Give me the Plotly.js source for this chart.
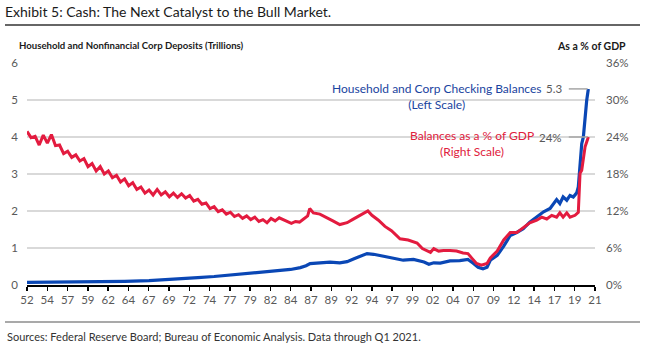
<!DOCTYPE html>
<html>
<head>
<meta charset="utf-8">
<script src="https://cdn.plot.ly/plotly-3.0.1.min.js"></script>
<style>
html, body { margin: 0; padding: 0; background: #ffffff; }
#chart { width: 646px; height: 351px; }
</style>
</head>
<body>
<div id="chart"></div>
<script>
// ---------- Data ----------
const tickLabels = ['52','54','57','59','62','64','67','69','72','74','77','79','82','84','87',
                    '89','92','94','97','99','02','04','07','09','12','14','17','19','21'];

// Household and Corp Checking Balances (trillions, left scale)
const balanceYears = [1952.0,1955.0,1958.0,1961.0,1964.0,1967.0,1969.0,1971.0,1973.0,1975.0,
  1977.0,1979.0,1981.0,1983.0,1984.4,1985.6,1986.3,1986.8,1988.0,1989.25,1990.45,1991.35,
  1992.2,1993.0,1993.8,1994.6,1995.8,1997.0,1998.25,1999.5,2000.8,2001.4,2002.0,2002.8,
  2004.0,2005.2,2006.2,2006.85,2007.45,2008.05,2008.55,2008.95,2009.8,2010.6,2011.4,2012.2,
  2013.0,2013.8,2014.66,2015.5,2016.3,2016.7,2017.1,2017.5,2017.9,2018.35,2018.75,2019.15,
  2019.57,2019.77,2019.98,2020.19,2020.39,2020.6,2020.8,2021.0];
const balances = [0.07,0.075,0.08,0.09,0.10,0.12,0.14,0.17,0.20,0.23,
  0.27,0.31,0.35,0.39,0.42,0.47,0.52,0.58,0.60,0.62,0.60,0.63,
  0.71,0.78,0.85,0.83,0.78,0.71,0.67,0.69,0.62,0.56,0.60,0.59,
  0.65,0.66,0.69,0.59,0.48,0.44,0.48,0.67,0.80,1.05,1.34,1.42,
  1.52,1.70,1.84,1.98,2.07,2.20,2.31,2.20,2.38,2.29,2.42,2.38,
  2.49,2.65,3.37,3.82,4.00,4.54,4.99,5.3];

// Balances as a % of GDP (right scale)
const shareYears = [1952.0,1952.5,1953.0,1953.5,1954.0,1954.5,1955.0,1955.5,1956.0,1956.5,
  1957.0,1957.5,1958.0,1958.5,1959.0,1959.5,1960.0,1960.5,1961.0,1961.5,
  1962.0,1962.5,1963.0,1963.5,1964.0,1964.5,1965.0,1965.5,1966.0,1966.5,
  1967.0,1967.5,1968.0,1968.5,1969.0,1969.5,1970.0,1970.5,1971.0,1971.5,
  1972.0,1972.5,1973.0,1973.5,1974.0,1974.5,1975.0,1975.5,1976.0,1976.5,
  1977.0,1977.5,1978.0,1978.5,1979.0,1979.5,1980.0,1980.5,1981.0,1981.5,
  1982.0,1982.5,1983.0,1983.5,1984.0,1984.5,1985.0,1985.5,1986.0,1986.5,
  1986.75,1987.2,1988.0,1988.8,1989.6,1990.45,1991.35,1992.0,1992.6,1993.2,
  1993.9,1994.4,1995.2,1996.0,1996.8,1997.85,1998.85,1999.95,2000.6,2001.6,
  2002.0,2002.6,2003.2,2004.0,2004.8,2005.6,2006.2,2006.65,2007.25,2007.85,
  2008.55,2008.95,2009.8,2010.6,2011.4,2012.2,2013.0,2013.8,2014.66,2015.27,
  2015.89,2016.5,2017.1,2017.5,2017.9,2018.35,2018.75,2019.37,2019.77,2019.98,
  2020.19,2020.39,2020.6,2020.8,2021.0];
const sharePct = [24.9,23.9,24.1,22.7,24.3,23.0,24.4,22.6,22.7,21.3,
  21.7,20.7,21.1,20.1,20.5,19.2,19.7,18.5,19.2,18.0,
  18.5,17.4,17.8,16.7,17.2,16.1,16.6,15.5,15.9,14.9,
  15.4,14.6,15.5,14.6,15.1,14.3,14.9,14.2,14.8,14.1,
  14.5,13.6,13.9,13.1,13.3,12.4,12.7,11.9,12.2,11.5,
  11.8,11.1,11.4,10.8,11.2,10.6,11.0,10.3,10.6,10.1,
  10.8,10.4,10.9,10.6,10.4,10.0,10.3,10.2,10.7,11.2,
  12.4,11.7,11.5,11.0,10.4,9.8,10.1,10.6,11.0,11.4,
  12.0,11.3,10.5,9.5,8.8,7.5,7.3,6.8,5.9,5.3,
  5.9,5.5,5.6,5.6,5.5,5.2,5.1,4.4,3.5,3.2,
  3.5,4.4,5.5,7.3,8.5,8.5,9.3,10.1,10.5,11.0,
  10.7,11.3,11.0,11.7,11.0,11.7,11.0,11.3,11.8,18.1,
  18.6,20.2,22.4,23.2,24.0];

const leftTicks = [0,1,2,3,4,5,6];
const rightTicks = [0,6,12,18,24,30,36];

// ---------- Style ----------
const FONT = 'Lato, "Open Sans", sans-serif';
const BLUE = '#0a47b5';
const RED = '#e31b3f';
const GREY_TXT = '#595959';
const X0 = 1952, X1 = 2021.82;

// plot area geometry (for paper-coordinate placement of outside texts)
const M = {l: 27, r: 51, t: 63, b: 66};
const PW = 646 - M.l - M.r, PH = 351 - M.t - M.b;
const px = x => (x - M.l) / PW;
const py = y => (351 - M.b - y) / PH;

const tickVals = tickLabels.map((_, i) => X0 + i * (X1 - X0) / (tickLabels.length - 1));

const lastBal = balances[balances.length - 1];
const lastPct = sharePct[sharePct.length - 1];
const lastYear = balanceYears[balanceYears.length - 1];

const traces = [
  {x: shareYears, y: sharePct, yaxis: 'y2', type: 'scatter', mode: 'lines',
   line: {color: RED, width: 3}, hoverinfo: 'skip'},
  {x: balanceYears, y: balances, yaxis: 'y', type: 'scatter', mode: 'lines',
   line: {color: BLUE, width: 3.2}, hoverinfo: 'skip'}
];

const layout = {
  width: 646, height: 351,
  margin: M,
  paper_bgcolor: '#ffffff', plot_bgcolor: '#ffffff',
  showlegend: false,
  font: {family: FONT, color: GREY_TXT, size: 12},
  title: {text: 'Exhibit 5: Cash: The Next Catalyst to the Bull Market.',
          xref: 'container', yref: 'container', x: 5/646, y: 1 - 12/351,
          xanchor: 'left', yanchor: 'middle',
          font: {family: FONT, size: 14, color: '#1a1a1a'}},
  xaxis: {range: [X0, X1], tickmode: 'array', tickvals: tickVals, ticktext: tickLabels,
          ticks: 'outside', ticklen: 4, tickwidth: 1.5, tickcolor: '#000',
          showline: true, linecolor: '#000', linewidth: 1.5,
          showgrid: false, zeroline: false, fixedrange: true,
          tickfont: {size: 11.5, color: GREY_TXT}},
  yaxis: {range: [0, 6], tickmode: 'array', tickvals: leftTicks,
          ticktext: leftTicks.map(String),
          showgrid: true, gridcolor: '#d9d9d9', gridwidth: 1.5,
          zeroline: false, showline: false, ticks: '', fixedrange: true,
          ticklabelstandoff: 8,
          tickfont: {size: 11.5, color: GREY_TXT}},
  yaxis2: {range: [0, 36], tickmode: 'array', tickvals: rightTicks,
           ticktext: rightTicks.map(v => v + '%'),
           overlaying: 'y', side: 'right', showgrid: false, zeroline: false,
           showline: false, ticks: '', fixedrange: true, ticklabelstandoff: 10,
           tickfont: {size: 11.5, color: GREY_TXT}},
  shapes: [
    {type: 'line', xref: 'paper', yref: 'paper', x0: px(5), x1: px(640), y0: py(25), y1: py(25),
     line: {color: '#333333', width: 1.5}},
    {type: 'line', xref: 'paper', yref: 'paper', x0: px(5), x1: px(640), y0: py(322), y1: py(322),
     line: {color: '#555555', width: 1.2}},
    {type: 'line', xref: 'x', yref: 'y', x0: 2018.6, x1: lastYear - 0.1, y0: lastBal, y1: lastBal,
     line: {color: '#a6a6a6', width: 1.5}},
    {type: 'line', xref: 'x', yref: 'y2', x0: 2018.6, x1: lastYear - 0.1, y0: lastPct, y1: lastPct,
     line: {color: '#a6a6a6', width: 1.5}}
  ],
  annotations: [
    {xref: 'paper', yref: 'paper', x: px(17), y: py(46), xanchor: 'left', yanchor: 'middle',
     text: '<b>Household and Nonfinancial Corp Deposits (Trillions)</b>', showarrow: false,
     font: {size: 9.6, color: '#1a1a1a'}},
    {xref: 'paper', yref: 'paper', x: px(628), y: py(46), xanchor: 'right', yanchor: 'middle',
     text: '<b>As a % of GDP</b>', showarrow: false,
     font: {size: 10.5, color: '#1a1a1a'}},
    {xref: 'paper', yref: 'paper', x: px(5), y: py(336), xanchor: 'left', yanchor: 'middle',
     text: 'Sources: Federal Reserve Board; Bureau of Economic Analysis. Data through Q1 2021.',
     showarrow: false, font: {size: 11, color: '#333333'}},
    {xref: 'paper', yref: 'paper', x: px(436), y: py(96.5), xanchor: 'center', yanchor: 'middle',
     text: 'Household and Corp Checking Balances<br>(Left Scale)', showarrow: false, align: 'center',
     font: {size: 12, color: '#1a44a0'}},
    {xref: 'paper', yref: 'paper', x: px(472), y: py(143.5), xanchor: 'center', yanchor: 'middle',
     text: 'Balances as a % of GDP<br>(Right Scale)', showarrow: false, align: 'center',
     font: {size: 12, color: '#e0203c'}},
    {xref: 'paper', yref: 'y', x: px(564), y: lastBal, xanchor: 'right', yanchor: 'middle',
     text: lastBal.toFixed(1), showarrow: false, font: {size: 11.5, color: GREY_TXT}},
    {xref: 'paper', yref: 'y2', x: px(564), y: lastPct, xanchor: 'right', yanchor: 'middle',
     text: lastPct.toFixed(0) + '%', showarrow: false, font: {size: 11.5, color: GREY_TXT}}
  ]
};

Plotly.newPlot('chart', traces, layout, {displayModeBar: false, staticPlot: true});
</script>
</body>
</html>
